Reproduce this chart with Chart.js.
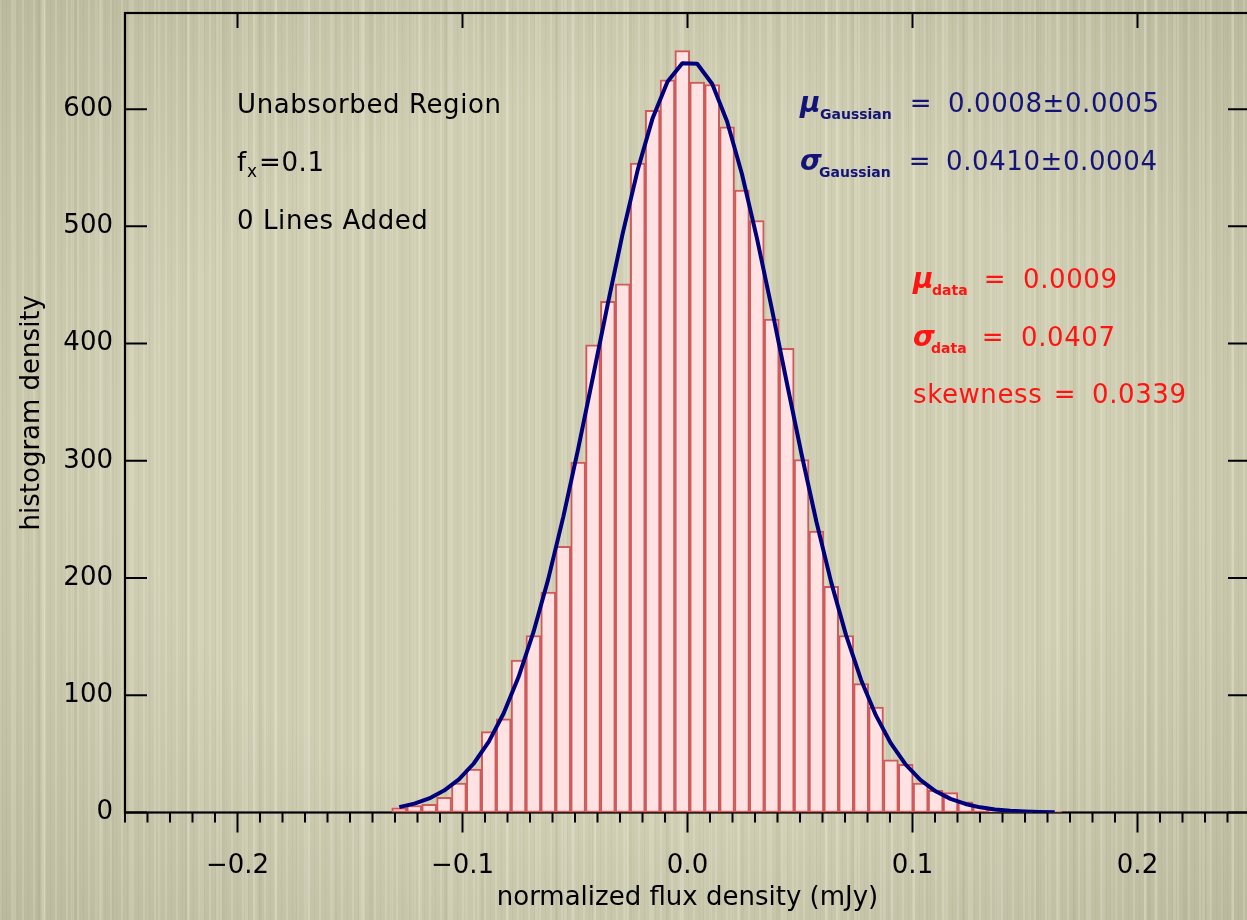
<!DOCTYPE html>
<html>
<head>
<meta charset="utf-8">
<title>Flux density histogram</title>
<script src="https://cdn.jsdelivr.net/npm/chart.js@4.4.1/dist/chart.umd.min.js"></script>
<style>
  html, body {
    margin: 0;
    padding: 0;
    width: 1247px;
    height: 920px;
    overflow: hidden;
  }
  body {
    /* khaki paper with soft vertical fibres */
    background:
      repeating-linear-gradient(90deg, rgba(255,255,238,0.16) 0 2px, transparent 2px 6px, rgba(90,90,60,0.05) 6px 7px, transparent 7px 11px),
      repeating-linear-gradient(90deg, transparent 0 13px, rgba(255,255,235,0.14) 13px 16px, transparent 16px 29px),
      repeating-linear-gradient(90deg, rgba(80,80,50,0.05) 0 3px, transparent 3px 37px),
      repeating-linear-gradient(90deg, transparent 0 41px, rgba(255,255,240,0.10) 41px 45px, transparent 45px 53px),
      radial-gradient(ellipse at center, rgba(0,0,0,0) 55%, rgba(60,60,30,0.14) 100%),
      #cfceb3;
  }
  #wrap { width: 1256px; height: 920px; }
</style>
</head>
<body>
<div id="wrap"><canvas id="histChart" width="1256" height="920"></canvas></div>
<script>
// histogram bins (centres, mJy) and counts
const binCenters = [
  -0.1281, -0.1214, -0.1148, -0.1082, -0.1016, -0.0950, -0.0883, -0.0817, -0.0751, -0.0685,
  -0.0619, -0.0552, -0.0486, -0.0420, -0.0354, -0.0288, -0.0221, -0.0155, -0.0089, -0.0023,
   0.0043,  0.0110,  0.0176,  0.0242,  0.0308,  0.0374,  0.0441,  0.0507,  0.0573,  0.0639,
   0.0705,  0.0772,  0.0838,  0.0904,  0.0970,  0.1036,  0.1103,  0.1169,  0.1235,  0.1301,
   0.1367,  0.1434,  0.1500,  0.1566,  0.1632
];
const counts = [
    4,   6,   7,  13,  25,  37,  69,  80, 130, 151,
  188, 227, 299, 399, 436, 451, 554, 599, 625, 650,
  623, 621, 585, 531, 505, 421, 396, 301, 240, 193,
  151, 110,  90,  45,  41,  25,  19,  17,   9,   5,
    2,   1,   1,   0,   1
];
// fitted gaussian sampled at the bin centres
const gaussFit = [
    4.6,   7.6,  12.0,  18.7,  28.3,  41.8,  60.5,  84.7, 115.5, 153.6,
  199.1, 252.2, 310.2, 371.7, 434.1, 494.0, 548.4, 592.3, 623.3, 639.2,
  638.7, 621.4, 589.4, 544.7, 490.4, 430.4, 367.0, 305.6, 248.0, 196.1,
  151.1, 112.9,  82.6,  58.9,  40.9,  27.7,  18.1,  11.6,   7.3,   4.4,
    2.6,   1.5,   0.9,   0.5,   0.3
];
const xTickValues = [-0.2, -0.1, 0.0, 0.1, 0.2];
const yTickValues = [0, 100, 200, 300, 400, 500, 600];
const xRange = [-0.25, 0.25];
const yRange = [0, 682];
const xMinorStep = 0.01;

const FONT = "'DejaVu Sans', 'Liberation Sans', sans-serif";
const NAVY = "#141478";
const RED = "#ff1414";

Chart.defaults.color = "#000";
Chart.defaults.font.family = FONT;

// box frame with IDL-style tick marks
const framePlugin = {
  id: "frame",
  beforeDatasetsDraw(chart) {
    const { ctx, chartArea: a, scales: { x, y } } = chart;
    ctx.save();
    ctx.strokeStyle = "#000";
    ctx.lineWidth = 2.2;
    ctx.strokeRect(a.left, a.top, a.right - a.left, a.bottom - a.top);
    ctx.lineWidth = 2;
    ctx.beginPath();
    const nMinor = Math.round((xRange[1] - xRange[0]) / xMinorStep);
    for (let i = 0; i <= nMinor; i++) {
      const px = x.getPixelForValue(xRange[0] + i * xMinorStep);
      ctx.moveTo(px, a.bottom);
      ctx.lineTo(px, a.bottom + 10);
    }
    xTickValues.forEach(v => {
      const px = x.getPixelForValue(v);
      ctx.moveTo(px, a.bottom);
      ctx.lineTo(px, a.bottom + 20);
      ctx.moveTo(px, a.top);
      ctx.lineTo(px, a.top + 15);
    });
    yTickValues.forEach(v => {
      const py = y.getPixelForValue(v);
      ctx.moveTo(a.left, py);
      ctx.lineTo(a.left + 22, py);
      ctx.moveTo(a.right, py);
      ctx.lineTo(a.right - 22, py);
    });
    ctx.stroke();
    ctx.restore();
  }
};

function put(ctx, text, x, y, font, color, align, spacing) {
  ctx.font = font;
  ctx.fillStyle = color;
  ctx.textAlign = align || "left";
  ctx.letterSpacing = spacing || "0.6px";
  ctx.fillText(text, x, y);
}

// run notes and fit statistics
const notesPlugin = {
  id: "notes",
  afterDraw(chart) {
    const ctx = chart.ctx;
    const main = "26px " + FONT;
    const sub = "bold 14px " + FONT;
    const greek = "italic bold 28px " + FONT;
    ctx.save();
    ctx.textBaseline = "alphabetic";

    put(ctx, "Unabsorbed Region", 237, 113, main, "#000");
    put(ctx, "f", 237, 171, main, "#000");
    put(ctx, "x", 247, 177, "17px " + FONT, "#000");
    put(ctx, "=0.1", 259, 171, main, "#000");
    put(ctx, "0 Lines Added", 237, 229, main, "#000");

    put(ctx, "\u03bc", 800, 112, greek, NAVY);
    put(ctx, "Gaussian", 820, 119, sub, NAVY, "left", "0px");
    put(ctx, "=", 921, 112, main, NAVY, "center");
    put(ctx, "0.0008\u00b10.0005", 948, 112, main, NAVY);

    put(ctx, "\u03c3", 800, 170, greek, NAVY);
    put(ctx, "Gaussian", 819, 177, sub, NAVY, "left", "0px");
    put(ctx, "=", 920, 170, main, NAVY, "center");
    put(ctx, "0.0410\u00b10.0004", 946, 170, main, NAVY);

    put(ctx, "\u03bc", 913, 288, greek, RED);
    put(ctx, "data", 932, 295, sub, RED, "left", "0px");
    put(ctx, "=", 995, 288, main, RED, "center");
    put(ctx, "0.0009", 1023, 288, main, RED);

    put(ctx, "\u03c3", 913, 346, greek, RED);
    put(ctx, "data", 931, 353, sub, RED, "left", "0px");
    put(ctx, "=", 993, 346, main, RED, "center");
    put(ctx, "0.0407", 1021, 346, main, RED);

    put(ctx, "skewness", 913, 403, main, RED);
    put(ctx, "=", 1065, 403, main, RED, "center");
    put(ctx, "0.0339", 1092, 403, main, RED);
    ctx.restore();
  }
};

const canvas = document.getElementById("histChart");

new Chart(canvas.getContext("2d"), {
  type: "bar",
  data: {
    datasets: [
      {
        type: "line",
        label: "Gaussian fit",
        data: binCenters.map((x, i) => ({ x, y: gaussFit[i] })),
        borderColor: "#00007c",
        borderWidth: 4,
        borderJoinStyle: "round",
        pointRadius: 0,
        tension: 0,
        fill: false,
        order: 0
      },
      {
        type: "bar",
        label: "histogram",
        data: binCenters.map((x, i) => ({ x, y: counts[i] })),
        backgroundColor: "#ffe2e1",
        borderColor: "#d05a5a",
        borderWidth: 2,
        borderSkipped: false,
        barThickness: "flex",
        categoryPercentage: 1,
        barPercentage: 1,
        order: 1
      }
    ]
  },
  options: {
    responsive: false,
    animation: false,
    events: [],
    layout: { padding: { top: 13, right: 6, left: 0, bottom: 0 } },
    plugins: {
      legend: { display: false },
      tooltip: { enabled: false }
    },
    scales: {
      x: {
        type: "linear",
        min: xRange[0],
        max: xRange[1],
        offset: false,
        grid: { display: false, drawTicks: false },
        border: { display: false },
        afterBuildTicks: scale => { scale.ticks = xTickValues.map(value => ({ value })); },
        afterFit: scale => {
          scale.height = 107.5;
          scale.paddingLeft = 0;
          scale.paddingRight = 0;
        },
        ticks: {
          autoSkip: false,
          maxRotation: 0,
          padding: 38,
          font: { size: 26 },
          callback: v => {
            const s = Math.abs(v).toFixed(1);
            return v < -1e-9 ? "\u2212" + s : s;
          }
        },
        title: {
          display: true,
          text: "normalized flux density (mJy)",
          font: { size: 26 },
          padding: { top: 0, bottom: 6 }
        }
      },
      y: {
        min: yRange[0],
        max: yRange[1],
        grid: { display: false, drawTicks: false },
        border: { display: false },
        afterBuildTicks: scale => { scale.ticks = yTickValues.map(value => ({ value })); },
        afterFit: scale => {
          scale.width = 125;
          scale.paddingTop = 0;
          scale.paddingBottom = 0;
        },
        ticks: {
          padding: 12,
          font: { size: 26 },
          callback: v => String(v)
        },
        title: {
          display: true,
          text: "histogram density",
          font: { size: 26 },
          padding: { top: 17, bottom: 0 }
        }
      }
    }
  },
  plugins: [framePlugin, notesPlugin]
});
</script>
</body>
</html>
